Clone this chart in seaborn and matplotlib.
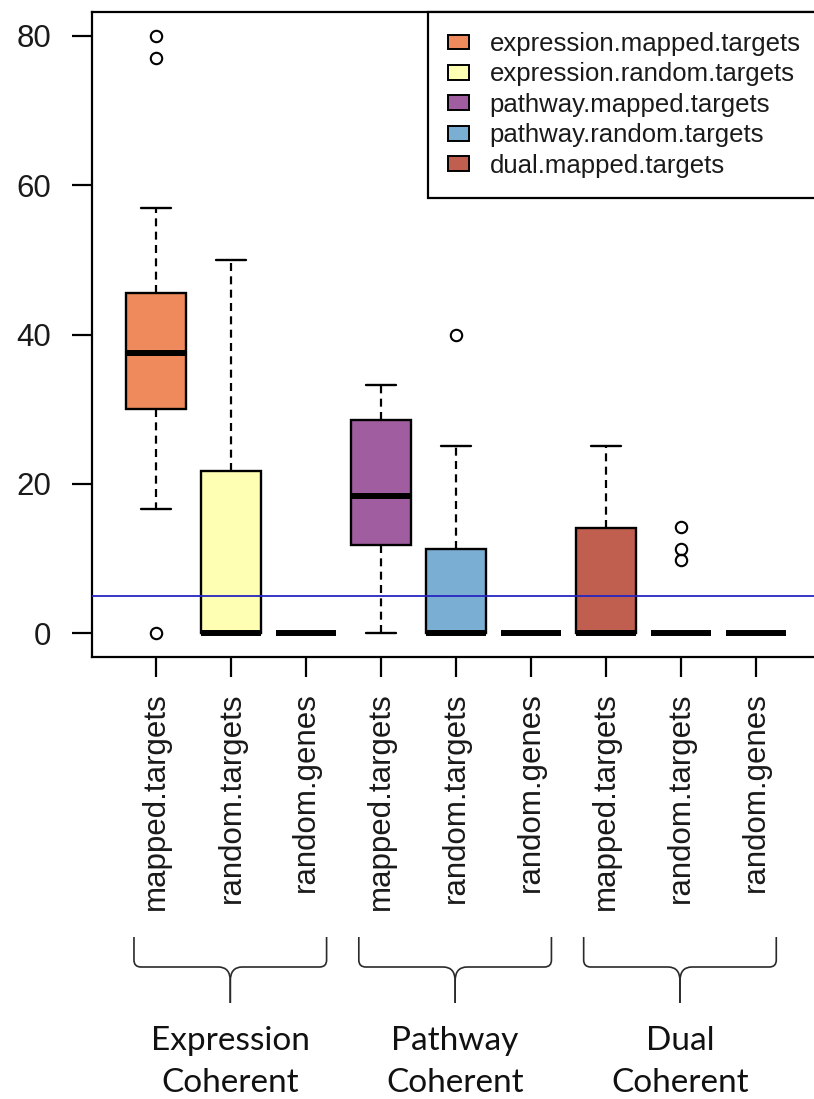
import numpy as np
import pandas as pd
import matplotlib
matplotlib.use("Agg")
import matplotlib.pyplot as plt
from matplotlib.patches import Patch, PathPatch
from matplotlib.path import Path
import matplotlib.transforms as mtransforms
import seaborn as sns

# ---------------- data ----------------
categories = [
    "expression.mapped.targets", "expression.random.targets", "expression.random.genes",
    "pathway.mapped.targets", "pathway.random.targets", "pathway.random.genes",
    "dual.mapped.targets", "dual.random.targets", "dual.random.genes",
]
tick_labels = ["mapped.targets", "random.targets", "random.genes"] * 3

expression_mapped_targets = [0, 16.6, 25, 30, 33, 35, 37.5, 40, 43, 45.6, 57, 77, 80]
expression_random_targets = [0, 0, 0, 0, 0, 0, 0, 5, 12, 21.7, 30, 40, 50]
expression_random_genes = [0, 0, 0, 0, 0, 0, 0, 0, 0, 0, 0, 0, 0]
pathway_mapped_targets = [0, 5, 9, 11.8, 14, 16, 18.3, 21, 25, 28.6, 30, 32, 33.2]
pathway_random_targets = [0, 0, 0, 0, 0, 0, 0, 3, 7, 11.3, 18, 25, 40]
pathway_random_genes = [0, 0, 0, 0, 0, 0, 0, 0, 0, 0, 0, 0, 0]
dual_mapped_targets = [0, 0, 0, 0, 0, 0, 0, 4, 9, 14.1, 18, 22, 25]
dual_random_targets = [0, 0, 0, 0, 0, 0, 0, 0, 0, 0, 9.8, 11.3, 14.2]
dual_random_genes = [0, 0, 0, 0, 0, 0, 0, 0, 0, 0, 0, 0, 0]

series = [
    expression_mapped_targets, expression_random_targets, expression_random_genes,
    pathway_mapped_targets, pathway_random_targets, pathway_random_genes,
    dual_mapped_targets, dual_random_targets, dual_random_genes,
]

box_colors = ["#EE8A5C", "#FFFFB3", "#FFFFFF",
              "#A05EA0", "#7BAED3", "#FFFFFF",
              "#C05F4F", "#FFFFFF", "#FFFFFF"]

legend_labels = ["expression.mapped.targets", "expression.random.targets",
                 "pathway.mapped.targets", "pathway.random.targets",
                 "dual.mapped.targets"]
legend_colors = ["#EE8A5C", "#FFFFB3", "#A05EA0", "#7BAED3", "#C05F4F"]

threshold = 5
y_ticks = [0, 20, 40, 60, 80]

groups = ["Expression\nCoherent", "Pathway\nCoherent", "Dual\nCoherent"]
group_members = [(0, 2), (3, 5), (6, 8)]

# ---------------- build long table ----------------
rows_cat, rows_val = [], []
for c, vals in zip(categories, series):
    rows_cat += [c] * len(vals)
    rows_val += list(vals)
df = pd.DataFrame({"group": rows_cat, "value": rows_val})

sns.set_style("white")
plt.rcParams["font.family"] = ["Liberation Sans", "DejaVu Sans"]

fig = plt.figure(figsize=(8.14, 10.99), dpi=100)
W, H = 814, 1099
ax = fig.add_axes([92 / W, 1 - 657 / H, (820.5 - 92) / W, (657 - 12) / H])

palette = dict(zip(categories, box_colors))
sns.boxplot(
    data=df, x="group", y="value", hue="group", order=categories,
    hue_order=categories, palette=palette, saturation=1, legend=False,
    width=0.8, whis=1.5, linecolor="black", linewidth=1.7, ax=ax,
    medianprops={"color": "black", "linewidth": 4.3, "solid_capstyle": "butt"},
    whiskerprops={"color": "black", "linewidth": 1.6, "linestyle": (0, (3.6, 2.4))},
    capprops={"color": "black", "linewidth": 1.7},
    flierprops={"marker": "o", "markerfacecolor": "none", "markeredgecolor": "black",
                "markersize": 8.2, "markeredgewidth": 1.5},
)

ax.axhline(threshold, color="#2525C0", linewidth=1.3, zorder=5)

ax.set_xlim(-0.86, 8.86)
ax.set_ylim(-3.2, 83.2)
ax.set_yticks(y_ticks)
ax.set_xticks(range(len(categories)))
ax.set_xticklabels(tick_labels, rotation=90, va="top", ha="center")
ax.set_xlabel("")
ax.set_ylabel("")
for sp in ax.spines.values():
    sp.set_visible(True)
    sp.set_color("black")
    sp.set_linewidth(1.6)
ax.tick_params(axis="both", direction="out", length=14.4, width=1.6, color="black",
               bottom=True, left=True, labelcolor="#1a1a1a")
ax.tick_params(axis="y", labelsize=22.5, pad=15)
ax.tick_params(axis="x", labelsize=22.5, pad=11)

handles = [Patch(facecolor=c, edgecolor="black", linewidth=1.4) for c in legend_colors]
leg = ax.legend(handles, legend_labels, loc="upper right", bbox_to_anchor=(1, 1),
                borderaxespad=0, fontsize=18.5, frameon=True, fancybox=False,
                handlelength=0.8, handleheight=0.5, handletextpad=0.8,
                labelspacing=0.25, borderpad=0.78, framealpha=1)
leg.get_frame().set_edgecolor("black")
leg.get_frame().set_linewidth(1.6)
for t in leg.get_texts():
    t.set_color("#1a1a1a")

# ---------------- braces and group labels ----------------
trans = mtransforms.blended_transform_factory(ax.transData, fig.transFigure)
px_x = 1 / 75.0   # data units per pixel horizontally
px_y = 1 / H      # figure fraction per pixel vertically
y_top = 1 - 937 / H
y_h = 1 - 967 / H
y_bot = 1 - 1003 / H
for (a, b), label in zip(group_members, groups):
    L = a - 0.3
    R = b + 0.27
    C = (L + R) / 2
    r = 7
    for side, x0 in ((-1, L), (1, R)):
        verts = [
            (x0, y_top),
            (x0, y_h + r * px_y),
            (x0, y_h),
            (x0 - side * r * px_x, y_h),
            (C + side * 12 * px_x, y_h),
            (C, y_h),
            (C, y_h - 14 * px_y),
            (C, y_bot),
        ]
        codes = [Path.MOVETO, Path.LINETO, Path.CURVE3, Path.CURVE3,
                 Path.LINETO, Path.CURVE3, Path.CURVE3, Path.LINETO]
        patch = PathPatch(Path(verts, codes), transform=trans, fill=False,
                          edgecolor="#2a2a2a", linewidth=1.2, clip_on=False)
        fig.add_artist(patch)
    fig.text(C, 1 - 1062.5 / H, label, transform=trans, ha="center", va="center",
             fontsize=24, family=["Lato", "DejaVu Sans"], color="#111111",
             linespacing=1.5)

fig.savefig("out.png", dpi=100)
